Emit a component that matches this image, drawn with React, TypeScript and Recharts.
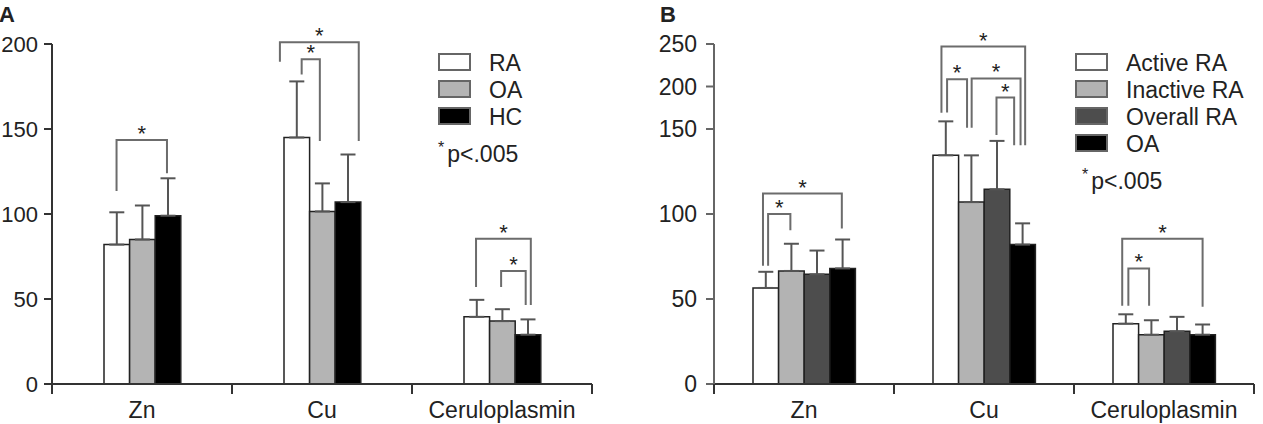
import React from 'react';
import { BarChart, Bar, XAxis, YAxis, ErrorBar, Legend, Rectangle } from 'recharts';

const FONT = '"Liberation Sans", Arial, Helvetica, sans-serif';
const TEXT = '#222';
const BRACKET = '#6c6c6c';

// ---------- Panel A: RA / OA / HC ----------
const categoriesA = ['Zn', 'Cu', 'Ceruloplasmin'];
const seriesA = ['RA', 'OA', 'HC'];
const raMean = [82, 145, 39.5];
const raSd = [19, 33, 10];
const oaMean = [85, 101.5, 37];
const oaSd = [20, 16.5, 7];
const hcMean = [99, 107, 29];
const hcSd = [22, 28, 9];
const yTicksA = [0, 50, 100, 150, 200];

// ---------- Panel B: Active / Inactive / Overall RA / OA ----------
const categoriesB = ['Zn', 'Cu', 'Ceruloplasmin'];
const seriesB = ['Active RA', 'Inactive RA', 'Overall RA', 'OA'];
const activeMean = [56.5, 134.5, 35.5];
const activeSd = [9.5, 24.5, 5.5];
const inactiveMean = [66.5, 107, 29];
const inactiveSd = [16, 27.5, 8.5];
const overallMean = [64.5, 114.5, 31];
const overallSd = [14, 28.5, 8.5];
const oaBMean = [68, 82, 29];
const oaBSd = [17, 12.5, 6];
const yTicksB = [0, 50, 100, 150, 200, 250];

// Significance brackets: category index, leg positions in bar-widths from the
// group's left edge, bracket height and where each leg stops (data units).
type Bracket = { cat: number; from: number; to: number; top: number; leftEnd: number; rightEnd: number };
const bracketsA: Bracket[] = [
  { cat: 0, from: 0.49, to: 2.46, top: 143.5, leftEnd: 113.5, rightEnd: 124 },
  { cat: 1, from: -0.16, to: 2.92, top: 201, leftEnd: 189.5, rightEnd: 143 },
  { cat: 1, from: 0.69, to: 1.4, top: 191, leftEnd: 182, rightEnd: 143 },
  { cat: 2, from: 0.47, to: 2.61, top: 85.5, leftEnd: 57, rightEnd: 46.5 },
  { cat: 2, from: 1.45, to: 2.41, top: 66.5, leftEnd: 57, rightEnd: 46.5 },
];
const bracketsB: Bracket[] = [
  { cat: 0, from: 0.39, to: 3.47, top: 112, leftEnd: 69.5, rightEnd: 91.5 },
  { cat: 0, from: 0.59, to: 1.46, top: 100, leftEnd: 69.5, rightEnd: 90.5 },
  { cat: 1, from: 0.33, to: 3.6, top: 247, leftEnd: 169, rightEnd: 140.5 },
  { cat: 1, from: 0.55, to: 1.33, top: 208.5, leftEnd: 169.5, rightEnd: 151.5 },
  { cat: 1, from: 1.51, to: 3.42, top: 209.5, leftEnd: 151.5, rightEnd: 140.5 },
  { cat: 1, from: 2.48, to: 3.17, top: 187, leftEnd: 146.5, rightEnd: 140.5 },
  { cat: 2, from: 0.36, to: 3.5, top: 85.5, leftEnd: 46, rightEnd: 45.5 },
  { cat: 2, from: 0.6, to: 1.41, top: 68, leftEnd: 46, rightEnd: 46 },
];

// Broken value axis for panel B: above 150 the scale is compressed by half.
const BREAK_AT = 150;
const BREAK_RATIO = 0.5;
const brk = (v: number) => (v <= BREAK_AT ? v : BREAK_AT + (v - BREAK_AT) * BREAK_RATIO);
const unbrk = (t: number) => (t <= BREAK_AT ? t : BREAK_AT + (t - BREAK_AT) / BREAK_RATIO);
const same = (v: number) => v;

const rowsA = categoriesA.map((name, i) => ({
  name,
  ra: raMean[i], raSd: raSd[i],
  oa: oaMean[i], oaSd: oaSd[i],
  hc: hcMean[i], hcSd: hcSd[i],
}));

const rowsB = categoriesB.map((name, i) => ({
  name,
  act: activeMean[i], actSd: activeSd[i],
  inact: inactiveMean[i], inactSd: inactiveSd[i],
  all: overallMean[i], allSd: overallSd[i],
  oa: oaBMean[i], oaSd: oaBSd[i],
}));

const row = (p: any) => (p && p.payload ? p.payload : p);
const valueKey = (key: string, f: (v: number) => number) => (p: any) => f(row(p)[key]);
const upperErr = (key: string, f: (v: number) => number) => (p: any) => {
  const d = row(p);
  return [0, f(d[key] + d[key + 'Sd']) - f(d[key])];
};

// Bar shape for the first series of a group: draws the bar and the group's brackets.
const makeShape = (key: string, f: (v: number) => number, brackets: Bracket[]) => (props: any) => {
  const { x, y, width, height, index, payload, fill, stroke, strokeWidth } = props;
  const d = row(payload) || payload;
  const base = y + height;
  const ppu = height / f(d[key]);
  const yOf = (v: number) => base - f(v) * ppu;
  const own = brackets.filter((b) => b.cat === index);
  return (
    <g>
      <Rectangle x={x} y={y} width={width} height={height} fill={fill} stroke={stroke} strokeWidth={strokeWidth} />
      {own.map((b, i) => {
        const lx = x + b.from * width;
        const rx = x + b.to * width;
        const ty = yOf(b.top);
        return (
          <g key={i}>
            <path
              d={`M${lx},${yOf(b.leftEnd)}V${ty}H${rx}V${yOf(b.rightEnd)}`}
              fill="none"
              stroke={BRACKET}
              strokeWidth={2}
            />
            <text x={(lx + rx) / 2} y={ty + 1} textAnchor="middle" fontSize={22} fontFamily={FONT} fill={TEXT}>
              *
            </text>
          </g>
        );
      })}
    </g>
  );
};

const plainShape = (props: any) => {
  const { x, y, width, height, fill, stroke, strokeWidth } = props;
  return <Rectangle x={x} y={y} width={width} height={height} fill={fill} stroke={stroke} strokeWidth={strokeWidth} />;
};

// Category tick: label in the middle of the band, tick marks on the band edges.
const GroupTick = (props: any) => {
  const { x, y, payload, width, visibleTicksCount, index } = props;
  const band = width && visibleTicksCount ? width / visibleTicksCount : (payload.offset || 0) * 2;
  const last = index === visibleTicksCount - 1;
  return (
    <g>
      <line x1={x - band / 2} x2={x - band / 2} y1={y} y2={y + 10} stroke="#333" strokeWidth={2} />
      {last && <line x1={x + band / 2} x2={x + band / 2} y1={y} y2={y + 10} stroke="#333" strokeWidth={2} />}
      <text x={x} y={y + 34} textAnchor="middle" fill={TEXT} fontSize={23} fontFamily={FONT}>
        {payload.value}
      </text>
    </g>
  );
};

// Legend listing the series in drawing order, followed by the significance note.
const makeLegend = (order: string[], noteIndent: number) => (props: any) => {
  const items = [...(props.payload || [])].sort(
    (a: any, b: any) => order.indexOf(a.value) - order.indexOf(b.value)
  );
  return (
    <div style={{ fontFamily: FONT, fontSize: 23, color: TEXT, lineHeight: '27px', textAlign: 'left' }}>
      {items.map((e: any, i: number) => (
        <div key={i} style={{ display: 'flex', alignItems: 'center', height: 27 }}>
          <span
            style={{
              display: 'inline-block',
              width: 33,
              height: 18,
              boxSizing: 'border-box',
              border: '2px solid #666',
              background: (e.payload && e.payload.fill) || e.color,
            }}
          />
          <span style={{ marginLeft: 18, position: 'relative', top: 2, whiteSpace: 'nowrap' }}>{e.value}</span>
        </div>
      ))}
      <div style={{ marginTop: 10, marginLeft: noteIndent, display: 'flex', alignItems: 'flex-start' }}>
        <span style={{ fontSize: 16, lineHeight: '16px', marginRight: 3, position: 'relative', top: 1 }}>*</span>
        <span style={{ position: 'relative', top: 2 }}>p&lt;.005</span>
      </div>
    </div>
  );
};

const barCommon = {
  stroke: '#222',
  strokeWidth: 1.5,
  isAnimationActive: false,
};
const errCommon = { width: 7.5, stroke: '#555', strokeWidth: 2, direction: 'y' as const };

export default function App() {
  return (
    <div style={{ position: 'absolute', left: 0, top: 0, width: 1263, height: 424, background: '#fff', fontFamily: FONT }}>
      <svg width={1263} height={30} style={{ position: 'absolute', left: 0, top: 0 }}>
        <text x={-1} y={21.5} fontSize={22} fontWeight="bold" fontFamily={FONT} fill={TEXT}>A</text>
        <text x={660} y={21.5} fontSize={22} fontWeight="bold" fontFamily={FONT} fill={TEXT}>B</text>
      </svg>

      <div style={{ position: 'absolute', left: 0, top: 0 }}>
        <BarChart width={631} height={424} data={rowsA} margin={{ top: 44, right: 39, bottom: 0, left: 0 }} barGap={0}>
          <XAxis
            dataKey="name"
            height={40}
            interval={0}
            tickLine={false}
            tickSize={0}
            tickMargin={0}
            axisLine={{ stroke: '#333', strokeWidth: 2 }}
            tick={(p: any) => <GroupTick {...p} />}
          />
          <YAxis
            width={52}
            domain={[0, 200]}
            ticks={yTicksA}
            interval={0}
            tickSize={8}
            tickMargin={6}
            axisLine={{ stroke: '#333', strokeWidth: 2 }}
            tickLine={{ stroke: '#333', strokeWidth: 2 }}
            tick={{ fill: TEXT, fontSize: 22, fontFamily: FONT }}
          />
          <Legend
            layout="vertical"
            align="center"
            verticalAlign="middle"
            wrapperStyle={{ left: 438, top: 48, width: 190 }}
            content={makeLegend(seriesA, 0)}
          />
          <Bar dataKey={valueKey('ra', same)} name={seriesA[0]} fill="#ffffff" barSize={25.6} {...barCommon} shape={makeShape('ra', same, bracketsA)}>
            <ErrorBar dataKey={upperErr('ra', same)} {...errCommon} />
          </Bar>
          <Bar dataKey={valueKey('oa', same)} name={seriesA[1]} fill="#b4b4b4" barSize={25.6} {...barCommon} shape={plainShape}>
            <ErrorBar dataKey={upperErr('oa', same)} {...errCommon} />
          </Bar>
          <Bar dataKey={valueKey('hc', same)} name={seriesA[2]} fill="#000000" barSize={25.6} {...barCommon} shape={plainShape}>
            <ErrorBar dataKey={upperErr('hc', same)} {...errCommon} />
          </Bar>
        </BarChart>
      </div>

      <div style={{ position: 'absolute', left: 631, top: 0 }}>
        <BarChart width={632} height={424} data={rowsB} margin={{ top: 44, right: 9, bottom: 0, left: 0 }} barGap={0}>
          <XAxis
            dataKey="name"
            height={40}
            interval={0}
            tickLine={false}
            tickSize={0}
            tickMargin={0}
            axisLine={{ stroke: '#333', strokeWidth: 2 }}
            tick={(p: any) => <GroupTick {...p} />}
          />
          <YAxis
            width={83}
            domain={[0, brk(yTicksB[yTicksB.length - 1])]}
            ticks={yTicksB.map(brk)}
            interval={0}
            tickSize={8}
            tickMargin={9}
            tickFormatter={(t: number) => String(Math.round(unbrk(t)))}
            axisLine={{ stroke: '#666', strokeWidth: 2 }}
            tickLine={{ stroke: '#666', strokeWidth: 2 }}
            tick={{ fill: TEXT, fontSize: 23, fontFamily: FONT }}
          />
          <Legend
            layout="vertical"
            align="center"
            verticalAlign="middle"
            wrapperStyle={{ left: 444, top: 48, width: 185 }}
            content={makeLegend(seriesB, 7)}
          />
          <Bar dataKey={valueKey('act', brk)} name={seriesB[0]} fill="#ffffff" barSize={25.6} {...barCommon} shape={makeShape('act', brk, bracketsB)}>
            <ErrorBar dataKey={upperErr('act', brk)} {...errCommon} />
          </Bar>
          <Bar dataKey={valueKey('inact', brk)} name={seriesB[1]} fill="#b3b3b3" barSize={25.6} {...barCommon} shape={plainShape}>
            <ErrorBar dataKey={upperErr('inact', brk)} {...errCommon} />
          </Bar>
          <Bar dataKey={valueKey('all', brk)} name={seriesB[2]} fill="#4d4d4d" barSize={25.6} {...barCommon} shape={plainShape}>
            <ErrorBar dataKey={upperErr('all', brk)} {...errCommon} />
          </Bar>
          <Bar dataKey={valueKey('oa', brk)} name={seriesB[3]} fill="#000000" barSize={25.6} {...barCommon} shape={plainShape}>
            <ErrorBar dataKey={upperErr('oa', brk)} {...errCommon} />
          </Bar>
        </BarChart>
      </div>
    </div>
  );
}
